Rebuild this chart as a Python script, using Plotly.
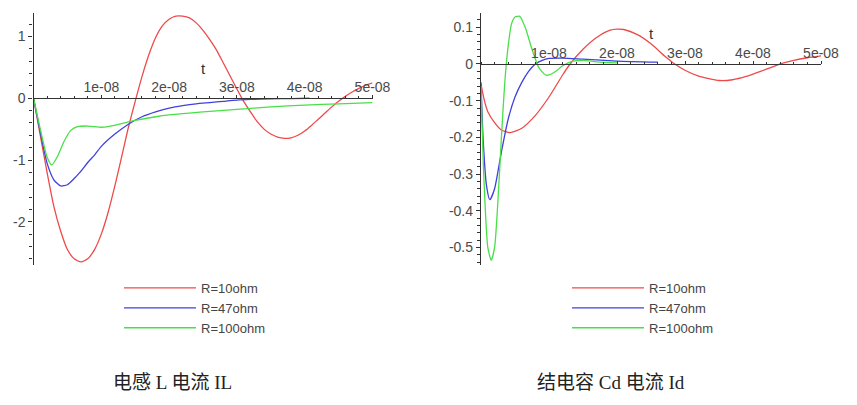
import plotly.graph_objects as go

W, H = 857, 405

# ---------------- data (time in units of 1e-8 s) ----------------
series_names = ["R=10ohm", "R=47ohm", "R=100ohm"]
series_colors = ["#ee4a4a", "#4040e0", "#48e048"]

# Inductor current IL
il_t_r10 = [0, 0.1, 0.2, 0.3, 0.4, 0.5, 0.6, 0.7, 0.8, 0.9, 1.0, 1.1, 1.2, 1.3, 1.4, 1.5, 1.6, 1.7,
            1.8, 1.9, 2.0, 2.1, 2.2, 2.3, 2.4, 2.5, 2.6, 2.7, 2.8, 2.9, 3.0, 3.1, 3.2, 3.3, 3.4, 3.5,
            3.6, 3.7, 3.8, 3.9, 4.0, 4.1, 4.2, 4.3, 4.4, 4.5, 4.6, 4.7, 4.8, 4.9, 5.0]
il_v_r10 = [0, -0.6, -1.2, -1.75, -2.15, -2.45, -2.6, -2.65, -2.6, -2.45, -2.2, -1.85, -1.42,
            -0.95, -0.47, -0.05, 0.35, 0.7, 0.98, 1.17, 1.28, 1.33, 1.33, 1.30, 1.22, 1.10, 0.95,
            0.78, 0.57, 0.36, 0.15, -0.05, -0.22, -0.38, -0.50, -0.58, -0.63, -0.65, -0.64, -0.60,
            -0.53, -0.44, -0.34, -0.24, -0.14, -0.05, 0.03, 0.10, 0.16, 0.21, 0.25]
il_t_r47 = [0, 0.1, 0.2, 0.3, 0.4, 0.5, 0.6, 0.7, 0.8, 0.9, 1.0, 1.2, 1.4, 1.6, 1.8, 2.0, 2.2, 2.4,
            2.6, 2.8, 3.0, 3.2, 3.5, 3.8, 4.07]
il_v_r47 = [0, -0.55, -1.05, -1.32, -1.42, -1.40, -1.30, -1.18, -1.04, -0.92, -0.78, -0.58, -0.42,
            -0.30, -0.22, -0.16, -0.12, -0.09, -0.07, -0.05, -0.03, -0.02, -0.01, -0.005, 0]
il_t_r100 = [0, 0.1, 0.2, 0.27, 0.35, 0.45, 0.55, 0.65, 0.8, 1.0, 1.1, 1.3, 1.5, 1.8, 2.0, 2.5, 3.0,
             3.5, 4.0, 4.5, 5.0]
il_v_r100 = [0, -0.5, -0.95, -1.08, -0.95, -0.7, -0.52, -0.46, -0.45, -0.47, -0.46, -0.41, -0.36,
             -0.30, -0.27, -0.22, -0.18, -0.14, -0.11, -0.09, -0.07]

# Junction capacitance current Id
id_t_r10 = [0, 0.05, 0.1, 0.2, 0.3, 0.43, 0.6, 0.8, 1.0, 1.2, 1.31, 1.5, 1.7, 1.9, 2.0, 2.1, 2.3,
            2.5, 2.7, 2.85, 3.0, 3.2, 3.5, 3.7, 3.9, 4.1, 4.3, 4.4, 4.6, 4.8, 5.0]
id_v_r10 = [-0.055, -0.1, -0.13, -0.16, -0.18, -0.187, -0.175, -0.14, -0.09, -0.03, 0.0, 0.04,
            0.072, 0.092, 0.095, 0.094, 0.08, 0.055, 0.022, 0.0, -0.017, -0.033, -0.045, -0.043,
            -0.034, -0.021, -0.007, 0.0, 0.01, 0.017, 0.022]
id_t_r47 = [0, 0.03, 0.08, 0.13, 0.2, 0.3, 0.4, 0.5, 0.6, 0.7, 0.8, 0.9, 1.0, 1.2, 1.5, 2.0, 2.6]
id_v_r47 = [-0.05, -0.2, -0.33, -0.37, -0.34, -0.24, -0.15, -0.09, -0.05, -0.02, 0.0, 0.01, 0.015,
            0.016, 0.013, 0.008, 0.005]
id_t_r100 = [0, 0.04, 0.1, 0.15, 0.2, 0.25, 0.3, 0.35, 0.4, 0.45, 0.5, 0.57, 0.65, 0.75, 0.85, 0.95,
             1.0, 1.1, 1.2, 1.35, 1.5, 1.7, 2.0]
id_v_r100 = [-0.06, -0.3, -0.5, -0.535, -0.5, -0.37, -0.2, -0.05, 0.05, 0.11, 0.128, 0.13, 0.1, 0.04,
             -0.01, -0.03, -0.03, -0.02, -0.005, 0.008, 0.01, 0.006, 0.003]

x_tick_vals = [1, 2, 3, 4, 5]
x_tick_text = ["1e-08", "2e-08", "3e-08", "4e-08", "5e-08"]
il_y_tick_vals = [-2, -1, 0, 1]
il_y_tick_text = ["-2", "-1", "0", "1"]
id_y_tick_vals = [-0.5, -0.4, -0.3, -0.2, -0.1, 0, 0.1]
id_y_tick_text = ["-0.5", "-0.4", "-0.3", "-0.2", "-0.1", "0", "0.1"]

caption_left = "电感 L 电流 IL"
caption_right = "结电容 Cd 电流 Id"

SCALE = 1e-8
# ---------------- layout geometry ----------------
il_xdom = [33.5 / W, 372.5 / W]
id_xdom = [481 / W, 821 / W]
ydom = [1 - 265 / H, 1 - 13 / H]
il_yrange = [-2.7, 1.38]
id_yrange = [-0.548, 0.139]
xrange_ = [0, 5.0 * SCALE]


def zero_pos(yr):
    return ydom[0] + (0 - yr[0]) / (yr[1] - yr[0]) * (ydom[1] - ydom[0])


fig = go.Figure()

left = [(il_t_r10, il_v_r10), (il_t_r47, il_v_r47), (il_t_r100, il_v_r100)]
right = [(id_t_r10, id_v_r10), (id_t_r47, id_v_r47), (id_t_r100, id_v_r100)]

for i, (t, v) in enumerate(left):
    fig.add_trace(go.Scatter(x=[a * SCALE for a in t], y=v, mode="lines", name=series_names[i],
                             line=dict(color=series_colors[i], width=1.3, shape="spline", smoothing=0.6),
                             xaxis="x", yaxis="y", legend="legend"))
for i, (t, v) in enumerate(right):
    fig.add_trace(go.Scatter(x=[a * SCALE for a in t], y=v, mode="lines", name=series_names[i],
                             line=dict(color=series_colors[i], width=1.3, shape="spline", smoothing=0.6),
                             xaxis="x2", yaxis="y2", legend="legend2"))

tick_font = dict(family="Liberation Sans, Arial, sans-serif", size=14, color="#4a4a4a")
axis_col = "#333333"


def xaxis_cfg(dom, yr):
    return dict(domain=dom, range=xrange_, anchor="free", position=zero_pos(yr), side="top",
                automargin=False,
                showline=True, linecolor=axis_col, linewidth=1.3, showgrid=False, zeroline=False,
                tickmode="array", tickvals=[a * SCALE for a in x_tick_vals], ticktext=x_tick_text,
                ticks="outside", ticklen=3, tickcolor=axis_col, tickfont=tick_font,
                ticklabelstandoff=-3,
                minor=dict(dtick=0.2 * SCALE, tick0=0, ticks="outside", ticklen=2, tickcolor=axis_col),
                title=dict(text="t", font=dict(family="Liberation Sans, Arial, sans-serif", size=15,
                                               color="#333"), standoff=0),
                fixedrange=True)


def yaxis_cfg(anchor, yr, tv, tt, minor_dt):
    return dict(domain=ydom, range=yr, anchor=anchor, automargin=False,
                showline=True, linecolor=axis_col, linewidth=1.3,
                showgrid=False, zeroline=False, tickmode="array", tickvals=tv, ticktext=tt,
                ticks="outside", ticklen=4, tickcolor=axis_col, tickfont=tick_font,
                minor=dict(dtick=minor_dt, tick0=0, ticks="outside", ticklen=3, tickcolor=axis_col),
                fixedrange=True)


legend_font = dict(family="Liberation Sans, Arial, sans-serif", size=13, color="#444")

fig.update_layout(
    width=W, height=H, margin=dict(l=0, r=0, t=0, b=0, autoexpand=False),
    paper_bgcolor="white", plot_bgcolor="white",
    xaxis=xaxis_cfg(il_xdom, il_yrange),
    yaxis=yaxis_cfg("x", il_yrange, il_y_tick_vals, il_y_tick_text, 0.2),
    xaxis2=xaxis_cfg(id_xdom, id_yrange),
    yaxis2=yaxis_cfg("x2", id_yrange, id_y_tick_vals, id_y_tick_text, 0.02),
    legend=dict(x=119 / W, y=1 - 273 / H, xanchor="left", yanchor="top", font=legend_font,
                bgcolor="rgba(0,0,0,0)", itemwidth=72, tracegroupgap=0),
    legend2=dict(x=567 / W, y=1 - 273 / H, xanchor="left", yanchor="top", font=legend_font,
                 bgcolor="rgba(0,0,0,0)", itemwidth=72, tracegroupgap=0),
    showlegend=True,
    annotations=[
        dict(text=caption_left, x=111 / W, y=1 - 382 / H, xref="paper", yref="paper",
             xanchor="left", yanchor="middle", showarrow=False,
             font=dict(family="Liberation Serif, Noto Sans CJK SC, serif", size=19, color="#222")),
        dict(text=caption_right, x=535 / W, y=1 - 382 / H, xref="paper", yref="paper",
             xanchor="left", yanchor="middle", showarrow=False,
             font=dict(family="Liberation Serif, Noto Sans CJK SC, serif", size=19, color="#222")),
    ],
)

fig.write_html("out.html",
               config={"displayModeBar": False},
               post_script="document.body.style.margin='0';document.body.style.overflow='hidden';")
